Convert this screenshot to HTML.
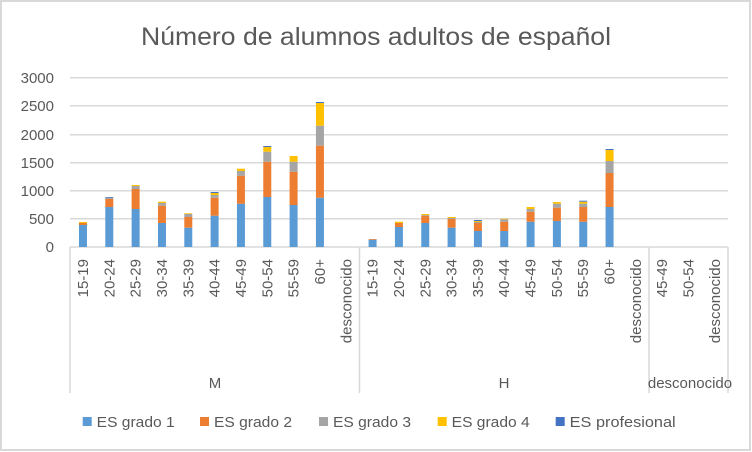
<!DOCTYPE html>
<html><head><meta charset="utf-8"><style>
html,body{margin:0;padding:0;background:#fff}
svg{display:block}
text{font-family:"Liberation Sans",sans-serif;fill:#595959}
</style></head><body>
<svg width="752" height="452" viewBox="0 0 752 452">
<rect x="1" y="1" width="749" height="449" fill="#fff" stroke="#d9d9d9" stroke-width="2"/>
<text x="376" y="45" font-size="25" text-anchor="middle" textLength="470" lengthAdjust="spacingAndGlyphs">Número de alumnos adultos de español</text>
<g stroke="#d9d9d9" stroke-width="1.5">
<line x1="70" y1="77.7" x2="728" y2="77.7"/>
<line x1="70" y1="105.7" x2="728" y2="105.7"/>
<line x1="70" y1="134.7" x2="728" y2="134.7"/>
<line x1="70" y1="162.7" x2="728" y2="162.7"/>
<line x1="70" y1="190.7" x2="728" y2="190.7"/>
<line x1="70" y1="218.7" x2="728" y2="218.7"/>
<line x1="70" y1="247" x2="728" y2="247"/>
<line x1="70" y1="247" x2="70" y2="393"/>
<line x1="359.5" y1="247" x2="359.5" y2="393"/>
<line x1="649" y1="247" x2="649" y2="393"/>
<line x1="728" y1="247" x2="728" y2="393"/>
</g>
<g font-size="15" text-anchor="end">
<text x="54" y="83">3000</text><text x="54" y="111">2500</text><text x="54" y="140">2000</text>
<text x="54" y="168">1500</text><text x="54" y="196">1000</text><text x="54" y="224">500</text><text x="54" y="252">0</text>
</g>
<g id="bars"></g>
<g id="labels" font-size="15" text-anchor="end"></g>
<g font-size="15" text-anchor="middle">
<text x="215" y="388">M</text><text x="504" y="388">H</text><text x="690" y="388">desconocido</text>
</g>
<g font-size="15">
<rect x="82.7" y="417" width="9" height="9" fill="#5b9bd5"/><text x="96.7" y="427" textLength="78" lengthAdjust="spacingAndGlyphs">ES grado 1</text>
<rect x="200" y="417" width="9" height="9" fill="#ed7d31"/><text x="214" y="427" textLength="78" lengthAdjust="spacingAndGlyphs">ES grado 2</text>
<rect x="319" y="417" width="9" height="9" fill="#a5a5a5"/><text x="333" y="427" textLength="78" lengthAdjust="spacingAndGlyphs">ES grado 3</text>
<rect x="437.7" y="417" width="9" height="9" fill="#ffc000"/><text x="451.7" y="427" textLength="78" lengthAdjust="spacingAndGlyphs">ES grado 4</text>
<rect x="555.7" y="417" width="9" height="9" fill="#4472c4"/><text x="569.7" y="427" textLength="106" lengthAdjust="spacingAndGlyphs">ES profesional</text>
</g>
</svg>
<script>
var NS="http://www.w3.org/2000/svg";
var cols=["#5b9bd5","#ed7d31","#a5a5a5","#ffc000","#4472c4"];
var M=[[225,223,223,222,222],[207,199,197.7,197.7,197],[209,189,186,185,185],[223,205.7,203,201.7,201.7],[227.7,217,214,213.3,213.3],[215.7,197.7,195,193,192],[203.7,175.7,171,168.7,168.7],[197,161.7,151.7,147,146],[205,171.7,161.7,156,156],[197.7,145.7,125.7,103,102]];
var H=[[239.7,239,239,239,239],[227,223,223,221.7,221.7],[223,215.7,215,214,214],[227.7,219,218,217,217],[231,223,222,221,220],[231,221.7,219.3,218.7,218.7],[221.7,211.7,209,207,207],[221,207.7,203.7,202,202],[221.7,207,203.7,201.7,200.7],[207,173,161,150,149]];
var g=document.getElementById("bars");
function draw(arr,start){arr.forEach(function(b,i){var cx=69.8+(start+i+0.5)*26.33;var prev=247;
for(var k=0;k<5;k++){var t=b[k];if(prev-t>0.05){var r=document.createElementNS(NS,"rect");r.setAttribute("x",cx-4);r.setAttribute("width",8);r.setAttribute("y",t);r.setAttribute("height",prev-t);r.setAttribute("fill",cols[k]);g.appendChild(r);}prev=t;}});}
draw(M,0);draw(H,11);
var labs=["15-19","20-24","25-29","30-34","35-39","40-44","45-49","50-54","55-59","60+","desconocido","15-19","20-24","25-29","30-34","35-39","40-44","45-49","50-54","55-59","60+","desconocido","45-49","50-54","desconocido"];
var L=document.getElementById("labels");
labs.forEach(function(s,i){var cx=69.8+(i+0.5)*26.33+5;var t=document.createElementNS(NS,"text");t.setAttribute("transform","translate("+cx+",259) rotate(-90)");t.setAttribute("x",0);t.setAttribute("y",0);t.textContent=s;L.appendChild(t);});
</script>
</body></html>
